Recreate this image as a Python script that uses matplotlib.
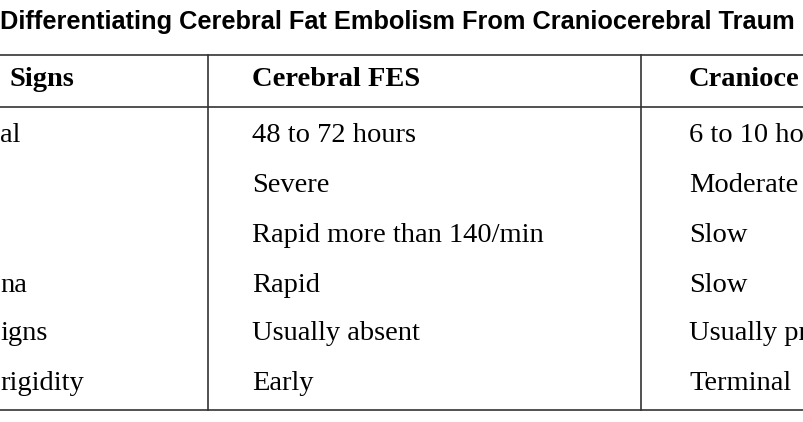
import matplotlib
matplotlib.use("Agg")
import matplotlib.pyplot as plt

title = "Differentiating Cerebral Fat Embolism From Craniocerebral Traum"
headers = ["Signs", "Cerebral FES", "Cranioce"]
col1 = ["al", "", "", "na", "igns", "rigidity"]
col2 = ["48 to 72 hours", "Severe", "Rapid more than 140/min", "Rapid", "Usually absent", "Early"]
col3 = ["6 to 10 ho", "Moderate", "Slow", "Slow", "Usually pr", "Terminal"]

fig = plt.figure(figsize=(8.04, 4.22), dpi=100)
ax = fig.add_axes([0, 0, 1, 1])
ax.set_xlim(0, 804); ax.set_ylim(422, 0); ax.axis("off")

ax.text(0, 22, title, fontsize=18.3, fontweight="bold", family="Liberation Sans", va="center", ha="left")
for y in (55, 107, 410):
    ax.plot([0, 804], [y, y], color="#333333", lw=1.2)
for x in (208, 641):
    ax.plot([x, x], [55, 410], color="#333333", lw=1.2)
xs = [10, 252, 689]
for x, h in zip(xs, headers):
    ax.text(x, 79, h, fontsize=20.5, fontweight="bold", family="Liberation Serif", va="center")
ys = [135, 185, 235, 285, 334, 384]
for i, y in enumerate(ys):
    for x, col in zip([0, 252, 689], [col1, col2, col3]):
        ax.text(x, y, col[i], fontsize=20.5, family="Liberation Serif", va="center")
fig.savefig("out.png", dpi=100)
